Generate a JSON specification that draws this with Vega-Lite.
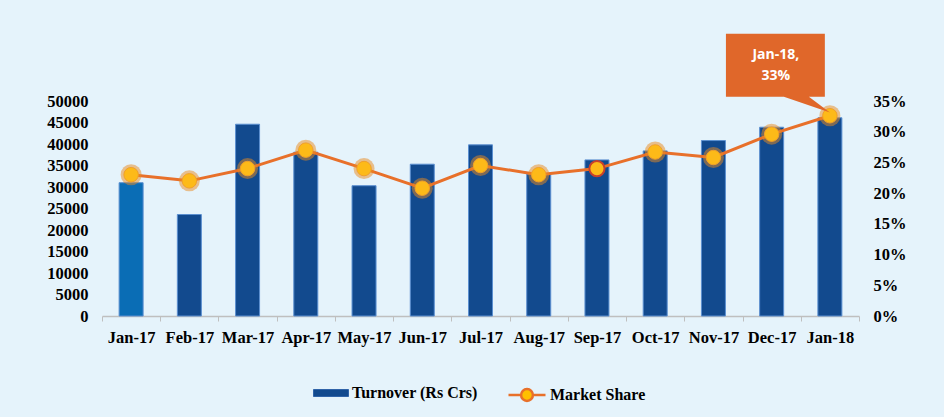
{
  "$schema": "https://vega.github.io/schema/vega-lite/v6.json",
  "autosize": {"type": "none"},
  "width": 757,
  "height": 215,
  "padding": {"left": 102, "top": 101, "right": 85, "bottom": 101},
  "background": "#E5F3FB",
  "config": {
    "view": {"stroke": null},
    "axis": {"labelFont": "Liberation Serif", "labelFontWeight": "bold", "labelColor": "#000000", "grid": false, "title": null},
    "legend": {"labelFont": "Liberation Serif", "labelFontWeight": "bold", "labelColor": "#000000", "labelFontSize": 16, "labelOffset": 3, "title": null}
  },
  "data": {
    "values": [
      {"month": "Jan-17", "turnover": 31000, "share": 0.230},
      {"month": "Feb-17", "turnover": 23600, "share": 0.220},
      {"month": "Mar-17", "turnover": 44600, "share": 0.240},
      {"month": "Apr-17", "turnover": 38100, "share": 0.270},
      {"month": "May-17", "turnover": 30300, "share": 0.240},
      {"month": "Jun-17", "turnover": 35300, "share": 0.208},
      {"month": "Jul-17", "turnover": 39800, "share": 0.245},
      {"month": "Aug-17", "turnover": 33000, "share": 0.230},
      {"month": "Sep-17", "turnover": 36300, "share": 0.240},
      {"month": "Oct-17", "turnover": 38400, "share": 0.267},
      {"month": "Nov-17", "turnover": 40800, "share": 0.258},
      {"month": "Dec-17", "turnover": 43900, "share": 0.296},
      {"month": "Jan-18", "turnover": 46100, "share": 0.326}
    ]
  },
  "encoding": {
    "x": {
      "field": "month", "type": "ordinal", "sort": null,
      "scale": {"paddingInner": 0, "paddingOuter": 0},
      "axis": {"labelAngle": 0, "labelFontSize": 16.5, "labelPadding": 8, "domainColor": "#BFBFBF", "tickColor": "#BFBFBF", "tickSize": 5, "tickBand": "extent", "domainWidth": 1.5}
    }
  },
  "layer": [
    {
      "mark": {"type": "bar", "width": 24, "stroke": "#5B8FD0", "strokeWidth": 1},
      "encoding": {
        "y": {
          "field": "turnover", "type": "quantitative",
          "scale": {"domain": [0, 50000], "nice": false},
          "axis": {"orient": "left", "values": [0, 5000, 10000, 15000, 20000, 25000, 30000, 35000, 40000, 45000, 50000], "format": "d", "labelFontSize": 16.5, "domain": false, "ticks": false, "labelPadding": 14, "labelOverlap": false}
        },
        "color": {
          "condition": {"test": "datum.month === 'Jan-17'", "value": "#0A6DB5"},
          "datum": "Turnover (Rs Crs)",
          "type": "nominal",
          "scale": {"domain": ["Turnover (Rs Crs)"], "range": ["#124A8E"]},
          "legend": {
            "orient": "none", "legendX": 211, "legendY": 274, "direction": "horizontal",
            "symbolSize": 1225, "symbolType": "M -1 -0.2 L 1 -0.2 L 1 0.2 L -1 0.2 Z",
            "symbolFillColor": "#124A8E", "symbolStrokeColor": "#2F63A8", "symbolStrokeWidth": 1, "symbolOpacity": 1
          }
        }
      }
    },
    {
      "encoding": {
        "y": {"field": "share", "type": "quantitative", "scale": {"domain": [0, 0.35], "nice": false},
          "axis": {"orient": "right", "values": [0, 0.05, 0.1, 0.15, 0.2, 0.25, 0.3, 0.35], "format": ".0%", "labelFontSize": 16.5, "domain": false, "ticks": false, "labelPadding": 14, "labelOverlap": false}}
      },
      "layer": [
        {
          "mark": {"type": "line", "strokeWidth": 3},
          "encoding": {
            "stroke": {
              "datum": "Market Share", "type": "nominal",
              "scale": {"domain": ["Market Share"], "range": ["#E8702A"]},
              "legend": {
                "orient": "none", "legendX": 405, "legendY": 274, "direction": "horizontal",
                "symbolSize": 1369, "symbolType": "M -1 0 L -0.32 0 M 0.32 0 L 1 0 M -0.32 0 A 0.32 0.32 0 1 0 0.32 0 A 0.32 0.32 0 1 0 -0.32 0 Z",
                "symbolFillColor": "#FFC000", "symbolStrokeColor": "#E8702A", "symbolStrokeWidth": 2.5, "symbolOpacity": 1
              }
            }
          }
        },
        {
          "mark": {"type": "point", "shape": "circle", "filled": true, "size": 440, "color": "#E98A1E", "opacity": 0.5},
          "transform": [{"filter": "datum.month !== 'Sep-17'"}]
        },
        {
          "mark": {"type": "point", "shape": "circle", "filled": true, "size": 210, "fill": "#FDBA18", "stroke": "#F0A02A", "strokeWidth": 1, "opacity": 1}
        },
        {
          "mark": {"type": "point", "shape": "circle", "size": 230, "fill": "#FDBA18", "stroke": "#C8412B", "strokeWidth": 2, "opacity": 1, "filled": false},
          "transform": [{"filter": "datum.month === 'Sep-17'"}]
        },
        {
          "mark": {"type": "point", "shape": "M -0.99 -0.781 L -0.048 -0.781 L -0.048 -0.181 L -0.2 -0.181 L 0 -0.03 L -0.438 -0.181 L -0.99 -0.181 Z", "size": 44100, "filled": true, "fill": "#E0672A", "stroke": null, "opacity": 1},
          "transform": [{"filter": "datum.month === 'Jan-18'"}]
        },
        {
          "mark": {"type": "text", "font": "Open Sans", "fontWeight": "bold", "fontSize": 14, "color": "#FFFFFF", "dx": -54, "dy": -61, "lineHeight": 21, "baseline": "middle", "align": "center"},
          "transform": [{"filter": "datum.month === 'Jan-18'"}],
          "encoding": {"text": {"value": ["Jan-18,", "33%"]}}
        }
      ]
    }
  ],
  "resolve": {"scale": {"y": "independent"}}
}
